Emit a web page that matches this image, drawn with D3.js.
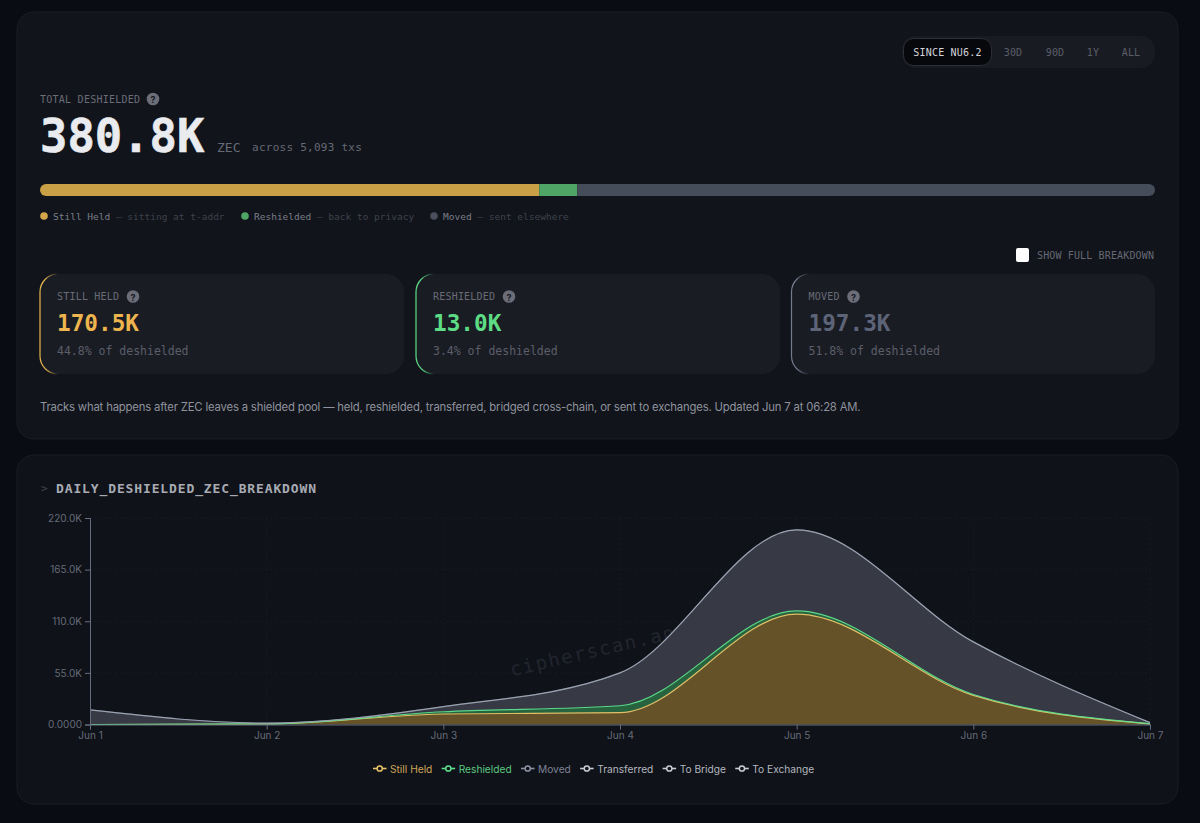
<!DOCTYPE html>
<html>
<head>
<meta charset="utf-8">
<script src="https://cdn.jsdelivr.net/npm/d3@7"></script>
<style>
  html, body { margin: 0; padding: 0; background: #0a0c13; overflow: hidden; }
  svg { display: block; }
  .mono { font-family: "DejaVu Sans Mono", "Liberation Mono", monospace; }
  .sans { font-family: Inter, "Noto Sans", sans-serif; }
  .axis text { font-family: Inter, sans-serif; font-size: 10px; fill: #666b78; }
  .axis path, .axis line { stroke: #676d80; }
</style>
</head>
<body>
<div id="chart"></div>
<script>
// ── Data ────────────────────────────────────────────────────────────────────
const days = ['Jun 1', 'Jun 2', 'Jun 3', 'Jun 4', 'Jun 5', 'Jun 6', 'Jun 7'];
const stillHeld   = [0, 500, 11200, 12600, 117500, 31000, 500];
const reshielded  = [0, 200, 2400, 7400, 3500, 1000, 500];
const moved       = [15500, 800, 5400, 35000, 86400, 56000, 1000];
const transferred = [0, 0, 0, 0, 0, 0, 0];
const toBridge    = [0, 0, 0, 0, 0, 0, 0];
const toExchange  = [0, 0, 0, 0, 0, 0, 0];
const yTicks = [0, 55000, 110000, 165000, 220000];
const yTickLabels = ['0.0000', '55.0K', '110.0K', '165.0K', '220.0K'];

const seriesNames = ['Still Held', 'Reshielded', 'Moved', 'Transferred', 'To Bridge', 'To Exchange'];
const seriesValues = [stillHeld, reshielded, moved, transferred, toBridge, toExchange];
const seriesLines = ['#e9c46a', '#5fe08d', '#8d93a5', '#c9ccd4', '#c9ccd4', '#c9ccd4'];
const seriesFills = ['#655229', '#27633e', '#373a45', 'none', 'none', 'none'];
const legendText = ['#d0a558', '#5cc980', '#7d8396', '#b4b7bf', '#b4b7bf', '#b4b7bf'];

const shareNames = ['Still Held', 'Reshielded', 'Moved'];
const shareNotes = ['sitting at t-addr', 'back to privacy', 'sent elsewhere'];
const shareValues = [170.5, 13.0, 197.3];
const shareColors = ['#c9a045', '#4fa565', '#454c5a'];
const shareDots = ['#d4a84a', '#4fa565', '#4b4e5c'];

const cardLabels = ['STILL HELD', 'RESHIELDED', 'MOVED'];
const cardValues = ['170.5K', '13.0K', '197.3K'];
const cardNotes = ['44.8% of deshielded', '3.4% of deshielded', '51.8% of deshielded'];
const cardColors = ['#eeb54e', '#5ddc85', '#5d6478'];
const cardEdges = ['#e8b54f', '#5ddc85', '#737a8e'];

const periods = ['30D', '90D', '1Y', 'ALL'];

// ── Page ────────────────────────────────────────────────────────────────────
const W = 1200, H = 823;
const svg = d3.select('#chart').append('svg').attr('width', W).attr('height', H);
const defs = svg.append('defs');

function addText(parent, x, y, str, cls, size, fill, opts = {}) {
  return parent.append('text')
    .attr('class', cls)
    .attr('x', x).attr('y', y)
    .attr('dominant-baseline', 'central')
    .attr('font-size', size)
    .attr('font-weight', opts.weight || 400)
    .attr('letter-spacing', opts.spacing || 0)
    .attr('text-anchor', opts.anchor || 'start')
    .attr('fill', fill)
    .text(str);
}

function helpIcon(cx, cy) {
  svg.append('circle').attr('cx', cx).attr('cy', cy).attr('r', 6.3).attr('fill', '#6b6e78');
  addText(svg, cx, cy + 0.5, '?', 'sans', 9, '#15171e', { anchor: 'middle', weight: 700 });
}

svg.append('rect').attr('width', W).attr('height', H).attr('fill', '#0a0c13');

// Panels
[[17, 12, 1161, 427, '#11141b'], [17, 455, 1161, 349, '#0f1219']].forEach(p => {
  svg.append('rect')
    .attr('x', p[0]).attr('y', p[1]).attr('width', p[2]).attr('height', p[3]).attr('rx', 17)
    .attr('fill', p[4]).attr('stroke', '#1a1d25').attr('stroke-width', 1);
});

// Period switch
svg.append('rect').attr('x', 902).attr('y', 36).attr('width', 253).attr('height', 32).attr('rx', 14).attr('fill', '#191b23');
svg.append('rect').attr('x', 903.5).attr('y', 38.5).attr('width', 88).attr('height', 27).attr('rx', 10)
  .attr('fill', '#07080b').attr('stroke', '#2b2e37');
addText(svg, 947.5, 52, 'SINCE NU6.2', 'mono', 10, '#d3d5da', { anchor: 'middle', spacing: 0.2 });
[1013, 1055, 1093, 1131].forEach((px, i) => addText(svg, px, 52, periods[i], 'mono', 10, '#5b5e68', { anchor: 'middle', spacing: 0.2 }));

// Headline
addText(svg, 40, 99, 'TOTAL DESHIELDED', 'mono', 10, '#6a6d77', { spacing: 0.25 });
helpIcon(153, 99);
addText(svg, 40, 136, '380.8K', 'mono', 45.5, '#e9ebef', { weight: 700 })
  .attr('stroke', '#e9ebef').attr('stroke-width', 0.6);
addText(svg, 217, 147, 'ZEC', 'mono', 13, '#666a74');
addText(svg, 252, 147, 'across 5,093 txs', 'mono', 11, '#666a74', { spacing: 0.26 });

// Share bar
const shareX = d3.scaleLinear().domain([0, d3.sum(shareValues)]).range([40, 1155]);
const shareClip = defs.append('clipPath').attr('id', 'share-clip');
shareClip.append('rect').attr('x', 40).attr('y', 184).attr('width', 1115).attr('height', 12).attr('rx', 6);
const shareRows = d3.stack().keys(shareNames)([Object.fromEntries(shareNames.map((n, i) => [n, shareValues[i]]))]);
svg.append('g').attr('clip-path', 'url(#share-clip)')
  .selectAll('rect').data(shareRows).enter().append('rect')
  .attr('x', d => shareX(d[0][0]))
  .attr('y', 184)
  .attr('width', d => shareX(d[0][1]) - shareX(d[0][0]))
  .attr('height', 12)
  .attr('fill', (d, i) => shareColors[i]);

// Share legend
[44, 245, 434].forEach((x, i) => {
  svg.append('circle').attr('cx', x).attr('cy', 216).attr('r', 3.8).attr('fill', shareDots[i]);
  const t = addText(svg, x + 9, 216, shareNames[i], 'mono', 9.5, '#7b7e88');
  t.append('tspan').attr('fill', '#3f424b').text(' — ' + shareNotes[i]);
});

// Breakdown toggle
svg.append('rect').attr('x', 1016).attr('y', 248).attr('width', 13).attr('height', 14).attr('rx', 2).attr('fill', '#fff');
addText(svg, 1037, 255, 'SHOW FULL BREAKDOWN', 'mono', 10, '#666973', { spacing: 0.14 });

// Stat cards
[40, 416, 791.5].forEach((x, i) => {
  const w = i === 2 ? 363.5 : 364, top = 274, bottom = 374, r = 18;
  svg.append('rect').attr('x', x).attr('y', top).attr('width', w).attr('height', 100).attr('rx', r).attr('fill', '#1a1c24');
  const grad = defs.append('linearGradient').attr('id', 'edge-' + i);
  grad.append('stop').attr('offset', 0.25).attr('stop-color', cardEdges[i]);
  grad.append('stop').attr('offset', 1).attr('stop-color', cardEdges[i]).attr('stop-opacity', 0);
  svg.append('path')
    .attr('d', `M${x + r},${top} A${r},${r} 0 0 0 ${x},${top + r} V${bottom - r} A${r},${r} 0 0 0 ${x + r},${bottom}`)
    .attr('fill', 'none').attr('stroke', `url(#edge-${i})`).attr('stroke-width', 1.2);
  addText(svg, x + 17, 296, cardLabels[i], 'mono', 10, '#696c76', { spacing: 0.2 });
  helpIcon(x + 17 + cardLabels[i].length * 6.2 + 14, 296.5);
  addText(svg, x + 17, 323, cardValues[i], 'mono', 22.7, cardColors[i], { weight: 700 });
  addText(svg, x + 17, 350.5, cardNotes[i], 'mono', 11.5, '#5b5e68');
});

addText(svg, 40, 406.5,
  'Tracks what happens after ZEC leaves a shielded pool — held, reshielded, transferred, bridged cross-chain, or sent to exchanges. Updated Jun 7 at 06:28 AM.',
  'sans', 11.3, '#8f929b', { spacing: -0.17 });

// Chart title
addText(svg, 41, 488.5, '>', 'mono', 11, '#44474f');
addText(svg, 56, 488.5, 'DAILY_DESHIELDED_ZEC_BREAKDOWN', 'mono', 13, '#a8abb3', { weight: 700, spacing: 0.87 });

// ── Chart ───────────────────────────────────────────────────────────────────
const margin = { top: 518, right: 50, bottom: 98.5, left: 90 };
const x = d3.scalePoint().domain(days).range([margin.left, W - margin.right]);
const y = d3.scaleLinear().domain([0, 220000]).range([H - margin.bottom, margin.top]);

// Grid
const grid = svg.append('g').attr('stroke', '#181b23').attr('stroke-dasharray', '2,3');
grid.selectAll('.h').data(yTicks.slice(1)).enter().append('line')
  .attr('x1', margin.left).attr('x2', W - margin.right).attr('y1', d => y(d)).attr('y2', d => y(d));
grid.selectAll('.v').data(days.slice(1)).enter().append('line')
  .attr('y1', margin.top).attr('y2', H - margin.bottom).attr('x1', d => x(d)).attr('x2', d => x(d));

// Watermark sits under the areas
svg.append('text')
  .attr('class', 'mono')
  .attr('transform', 'translate(599,649) rotate(-13)')
  .attr('text-anchor', 'middle')
  .attr('dominant-baseline', 'central')
  .attr('font-size', 19)
  .attr('letter-spacing', 1.6)
  .attr('fill', '#22252e')
  .text('cipherscan.app');

// Stacked areas
const rows = days.map((d, i) => {
  const row = { day: d };
  seriesNames.forEach((n, s) => { row[n] = seriesValues[s][i]; });
  return row;
});
const stacked = d3.stack().keys(seriesNames)(rows);
const area = d3.area().x(d => x(d.data.day)).y0(d => y(d[0])).y1(d => y(d[1])).curve(d3.curveMonotoneX);
const line = d3.line().x(d => x(d.data.day)).y(d => y(d[1])).curve(d3.curveMonotoneX);

svg.append('g').selectAll('path').data(stacked).enter().append('path')
  .attr('d', area)
  .attr('fill', (d, i) => seriesFills[i]);
svg.append('g').selectAll('path').data(stacked).enter().append('path')
  .attr('d', line)
  .attr('fill', 'none')
  .attr('stroke', (d, i) => seriesLines[i])
  .attr('stroke-width', 1.2)
  .attr('stroke-opacity', (d, i) => i > 2 ? 0.12 : 0.95);

// Axes
svg.append('g').attr('class', 'axis')
  .attr('transform', `translate(${margin.left},0)`)
  .call(d3.axisLeft(y).tickValues(yTicks).tickFormat((d, i) => yTickLabels[i]).tickSize(5).tickPadding(3));
svg.append('g').attr('class', 'axis')
  .attr('transform', `translate(0,${H - margin.bottom})`)
  .call(d3.axisBottom(x).tickSize(5).tickPadding(2))
  .call(g => g.select('.domain').attr('stroke', '#7d7a62'));

// Legend
const legend = svg.append('g');
let cursor = 0;
seriesNames.forEach((n, i) => {
  const item = legend.append('g').attr('transform', `translate(${cursor},768.5)`);
  item.append('line').attr('x1', 0).attr('x2', 13.5).attr('stroke', seriesLines[i]).attr('stroke-width', 1.6);
  item.append('circle').attr('cx', 6.7).attr('r', 2.6).attr('fill', '#0f1219').attr('stroke', seriesLines[i]).attr('stroke-width', 1.5);
  const t = addText(item, 17, 0, n, 'sans', 10.2, legendText[i]);
  cursor += 17 + t.node().getComputedTextLength() + 9.3;
});
legend.attr('transform', 'translate(373,0)');
</script>
</body>
</html>
